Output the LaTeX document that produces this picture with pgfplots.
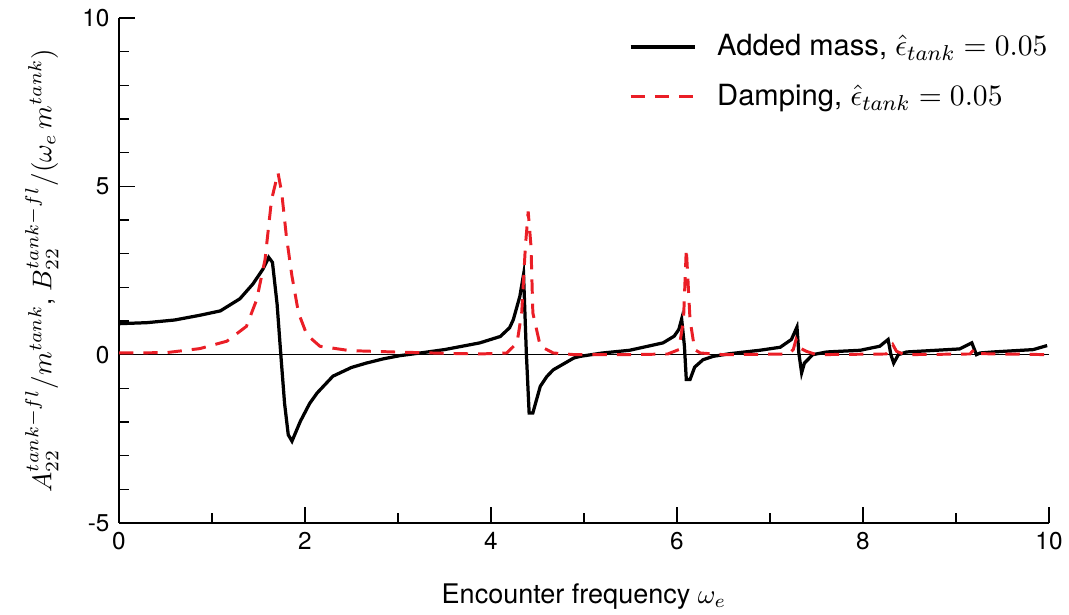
\documentclass[border=0pt]{standalone}
\usepackage{fontspec}
\setmainfont{TeX Gyre Heros}
\usepackage{pgfplots}
\pgfplotsset{compat=1.18}
\definecolor{myred}{RGB}{234,30,38}
\begin{document}
\begin{tikzpicture}
\begin{axis}[
  name=ax,
  scale only axis,
  width=344.4pt, height=187pt,
  xmin=0, xmax=10, ymin=-5, ymax=10,
  axis x line*=bottom, axis y line*=left,
  axis line style={-, line width=0.5pt},
  tick align=inside,
  major tick length=6pt, minor tick length=3.6pt,
  xtick={0,2,4,6,8,10}, xticklabels={0,2,4,6,8,10},
  minor x tick num=1,
  ytick={-5,0,5,10}, yticklabels={-5,0,5,10},
  minor y tick num=4,
  tick style={black, line width=0.4pt},
  ticklabel style={font=\fontsize{9}{10}\selectfont},
  xlabel={Encounter frequency $\omega_e$},
  ylabel={$A_{22}^{tank-fl}/m^{tank}$, $B_{22}^{tank-fl}/(\omega_e\, m^{tank})$},
  label style={font=\fontsize{10}{12}\selectfont},
  ylabel style={font=\fontsize{9.6}{11}\selectfont},
  xlabel style={at={(0.5,-0.145)}, anchor=center},
  ylabel style={at={(-0.083,0.5)}, anchor=center},
  legend style={at={(0.539,0.99)}, anchor=north west, draw=none, fill=none,
    font=\fontsize{10.8}{13}\selectfont, row sep=5pt},
  legend cell align=left,
  legend image code/.code={\draw[#1] (0pt,0pt) -- (24pt,0pt); \path (29.5pt,0pt);},
]
\addplot[black, line width=0.4pt, forget plot] coordinates {(0,0) (10,0)};
\addplot[black, line width=1.2pt] coordinates {
(0,0.92) (0.3,0.95) (0.6,1.03) (0.87,1.17) (1.09,1.3) (1.3,1.66) (1.44,2.1) (1.55,2.55) (1.61,2.89) (1.65,2.74) (1.70,1.5) (1.74,0) (1.78,-1.44) (1.82,-2.38) (1.86,-2.57) (1.95,-1.98) (2.05,-1.45) (2.13,-1.14) (2.3,-0.64) (2.5,-0.38) (2.66,-0.25) (2.85,-0.12) (3.02,-0.03) (3.24,0.05) (3.5,0.15) (3.88,0.35) (4.10,0.54) (4.2,0.8) (4.24,1.04) (4.31,1.73) (4.35,2.38) (4.38,0.05) (4.41,-1.73) (4.45,-1.73) (4.53,-0.94) (4.6,-0.65) (4.67,-0.45) (4.89,-0.1) (4.96,-0.05) (5.2,0.05) (5.49,0.13) (5.85,0.35) (5.97,0.55) (6.02,0.75) (6.05,1.06) (6.08,0.25) (6.10,-0.74) (6.14,-0.74) (6.19,-0.37) (6.28,-0.15) (6.39,-0.05) (6.57,0.03) (6.89,0.13) (7.11,0.22) (7.23,0.45) (7.29,0.82) (7.31,0.05) (7.34,-0.54) (7.37,-0.25) (7.46,0) (7.61,0.08) (7.97,0.13) (8.18,0.25) (8.27,0.45) (8.30,0.0) (8.33,-0.25) (8.38,0) (8.47,0.08) (9.04,0.17) (9.17,0.35) (9.22,0) (9.26,0.05) (9.40,0.08) (9.83,0.15) (9.98,0.27)
};
\addlegendentry{Added mass, $\hat{\epsilon}_{tank}=0.05$}
\addplot[myred, line width=1.1pt, dash pattern=on 5.3pt off 3.7pt] coordinates {
(0,0.05) (0.51,0.06) (0.87,0.18) (1.16,0.4) (1.37,0.84) (1.48,1.63) (1.57,2.82) (1.64,4.6) (1.71,5.4) (1.75,4.8) (1.80,3.51) (1.86,2.33) (1.93,1.24) (2.02,0.59) (2.16,0.25) (2.48,0.12) (2.95,0.08) (3.5,0.04) (3.88,0.02) (4.17,0.05) (4.28,0.35) (4.33,1.24) (4.37,3.22) (4.40,4.25) (4.43,3.22) (4.45,1.24) (4.53,0.25) (4.67,0.05) (4.9,0) (5.5,0) (5.9,0.02) (6.02,0.15) (6.07,1.04) (6.10,3.15) (6.14,1.04) (6.19,0.15) (6.25,0.05) (6.5,0) (7.2,0.02) (7.25,0.15) (7.28,0.45) (7.32,0.2) (7.39,0.1) (7.5,0) (8.25,0.02) (8.32,0.3) (8.36,0.1) (8.45,0) (9.15,0.02) (9.2,0.17) (9.25,0.03) (10,0)
};
\addlegendentry{Damping, $\hat{\epsilon}_{tank}=0.05$}
\end{axis}
\pgfresetboundingbox
\path ([shift={(-44.07pt,-34.07pt)}]ax.south west) rectangle ([shift={(7.41pt,6.67pt)}]ax.north east);
\end{tikzpicture}
\end{document}
